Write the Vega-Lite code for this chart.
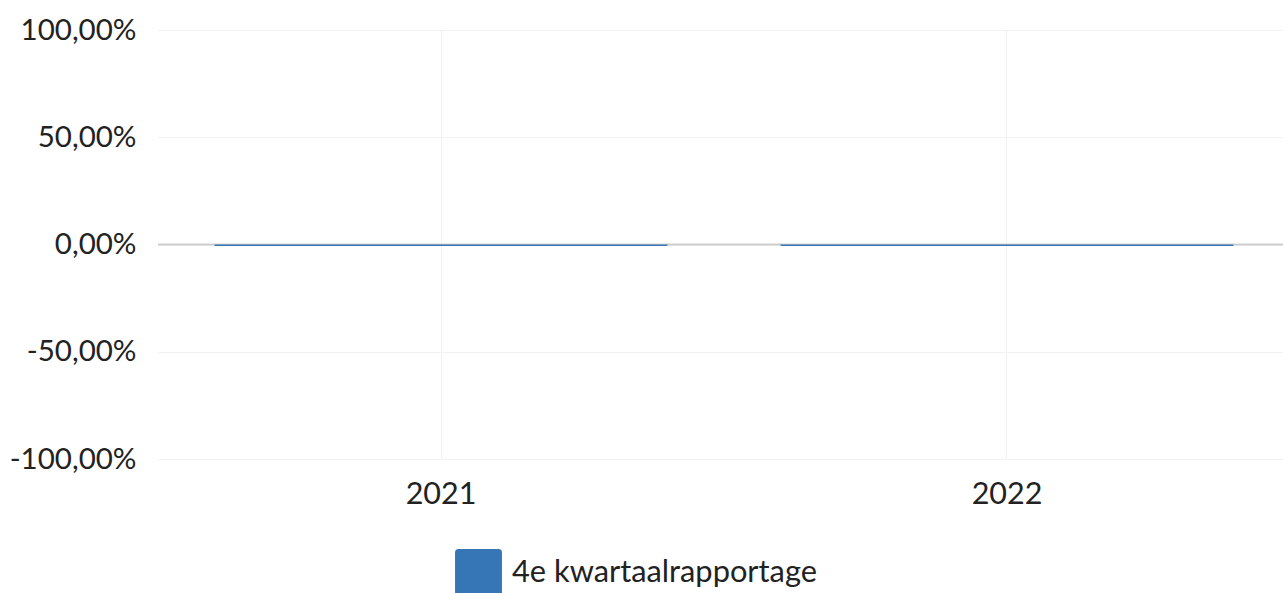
{
  "$schema": "https://vega.github.io/schema/vega-lite/v6.json",
  "autosize": {"type": "none"},
  "padding": {"left": 158, "top": 30, "right": 0, "bottom": 134},
  "width": 1132,
  "height": 429,
  "background": "white",
  "config": {
    "view": {"stroke": null},
    "font": "Lato",
    "axis": {"labelFont": "Lato", "labelColor": "#222222", "labelFontSize": 29.5}
  },
  "data": {"values": [
    {"jaar": "2021", "serie": "4e kwartaalrapportage", "waarde": -0.007},
    {"jaar": "2022", "serie": "4e kwartaalrapportage", "waarde": -0.007}
  ]},
  "layer": [
    {
      "mark": {"type": "rule", "color": "#cccccc", "strokeWidth": 1.5},
      "encoding": {"y": {"datum": 0, "type": "quantitative"}}
    },
    {
      "mark": {"type": "bar", "color": "#3776b6"},
      "encoding": {
        "x": {
          "field": "jaar", "type": "nominal",
          "scale": {"paddingInner": 0.2, "paddingOuter": 0.1},
          "axis": {"title": null, "labelAngle": 0, "grid": true, "gridColor": "#f2f2f2", "domain": false, "ticks": false, "labelPadding": 20, "labelFontSize": 30.5}
        },
        "y": {
          "field": "waarde", "type": "quantitative",
          "scale": {"domain": [-1, 1], "nice": false},
          "axis": {"title": null, "values": [-1, -0.5, 0, 0.5, 1], "grid": true, "gridColor": "#f2f2f2", "domain": false, "ticks": false, "labelPadding": 22,
            "labelExpr": "replace(replace(format(datum.value, '.2%'), '.', ','), '−', '-')"}
        },
        "color": {
          "field": "serie", "type": "nominal",
          "scale": {"range": ["#3776b6"]},
          "legend": {
            "title": null, "orient": "none", "legendX": 297, "legendY": 519,
            "direction": "horizontal",
            "symbolType": "M-0.85,-1 H0.85 Q1,-1 1,-0.85 V0.85 Q1,1 0.85,1 H-0.85 Q-1,1 -1,0.85 V-0.85 Q-1,-1 -0.85,-1 Z",
            "symbolSize": 2200, "symbolStrokeWidth": 0, "symbolOpacity": 1,
            "labelFontSize": 30.8, "labelFont": "Lato", "labelColor": "#222222", "labelOffset": 10, "labelLimit": 600
          }
        }
      }
    }
  ]
}
